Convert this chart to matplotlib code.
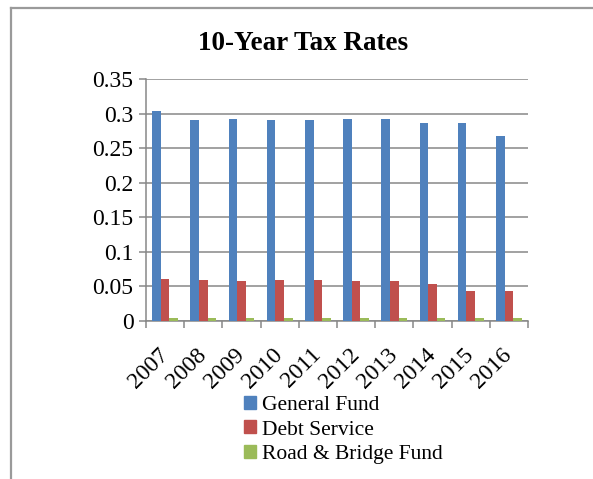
import matplotlib
matplotlib.use("Agg")
import matplotlib.pyplot as plt
from matplotlib.lines import Line2D
from matplotlib.patches import Patch
import numpy as np

years = ["2007", "2008", "2009", "2010", "2011", "2012", "2013", "2014", "2015", "2016"]
general_fund = [0.304, 0.290, 0.292, 0.291, 0.291, 0.292, 0.292, 0.286, 0.286, 0.268]
debt_service = [0.0607, 0.0597, 0.0578, 0.0588, 0.0588, 0.0578, 0.0578, 0.0534, 0.0433, 0.0433]
road_bridge = [0.0045, 0.004, 0.004, 0.004, 0.004, 0.004, 0.004, 0.004, 0.004, 0.004]
series_names = ["General Fund", "Debt Service", "Road & Bridge Fund"]
colors = ["#4F81BD", "#C0504D", "#9BBB59"]
yticks = [0, 0.05, 0.1, 0.15, 0.2, 0.25, 0.3, 0.35]
ytick_labels = ["0", "0.05", "0.1", "0.15", "0.2", "0.25", "0.3", "0.35"]

plt.rcParams['font.family'] = ['Liberation Serif', 'DejaVu Serif']

W, H = 593, 479
fig = plt.figure(figsize=(W / 100, H / 100), dpi=100)
ax = fig.add_axes([146 / W, 1 - 321 / H, (528 - 146) / W, (321 - 79) / H])

x = np.arange(len(years))
bw = 0.225
for i, (vals, c) in enumerate(zip([general_fund, debt_service, road_bridge], colors)):
    ax.bar(x + (i - 1) * bw, vals, width=bw, color=c, zorder=3)

ax.set_xlim(-0.5, len(years) - 0.5)
ax.set_ylim(0, 0.35)
ax.set_yticks(yticks)
ax.set_yticklabels(ytick_labels, fontsize=17)
ax.yaxis.grid(True, color="#878787", lw=1.1, zorder=0)
ax.set_axisbelow(True)

ax.set_xticks(x)
ax.set_xticklabels(years, fontsize=17, rotation=45, ha="right", va="center",
                   rotation_mode="anchor")
ax.tick_params(axis="x", which="major", length=0, pad=22)
ax.set_xticks(np.arange(-0.5, len(years), 1.0), minor=True)
ax.tick_params(axis="x", which="minor", length=5, width=1.1, color="#878787", direction="out")
ax.tick_params(axis="y", length=5, width=1.1, color="#878787", direction="out", pad=4)

for s in ["top", "right"]:
    ax.spines[s].set_visible(False)
for s in ["left", "bottom"]:
    ax.spines[s].set_color("#878787")
    ax.spines[s].set_linewidth(1.1)

fig.text(303 / W, 1 - 44 / H, "10-Year Tax Rates", ha="center", va="center",
         fontsize=19.5, fontweight="bold")

handles = [Patch(color=c) for c in colors]
fig.legend(handles, series_names, loc="upper left",
           bbox_to_anchor=(244 / W, 1 - 396 / H), frameon=False, fontsize=15.5,
           handlelength=0.55, handleheight=0.55, handletextpad=0.3,
           labelspacing=0.25, borderpad=0, borderaxespad=0)

# figure border (left and top only visible)
fig.add_artist(Line2D([11 / W, 11 / W], [0, 1 - 8 / H], color="#9a9a9a", lw=1.6,
                      transform=fig.transFigure))
fig.add_artist(Line2D([11 / W, 1], [1 - 8 / H, 1 - 8 / H], color="#9a9a9a", lw=1.6,
                      transform=fig.transFigure))

fig.savefig("out.png", dpi=100)
